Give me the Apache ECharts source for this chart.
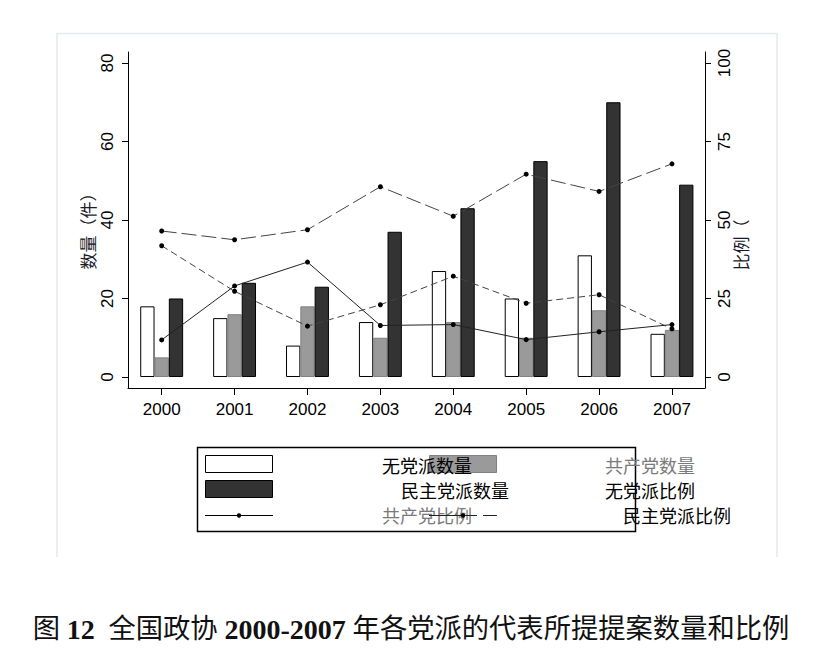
<!DOCTYPE html>
<html>
<head>
<meta charset="utf-8">
<script src="https://cdn.jsdelivr.net/npm/echarts@6/dist/echarts.min.js"></script>
<style>
html,body{margin:0;padding:0;background:#fff}
#c{width:822px;height:654px}
</style>
</head>
<body>
<div id="c"></div>
<script>
// ---- data ----
const years = ['2000','2001','2002','2003','2004','2005','2006','2007'];
const nonPartyCount   = [18, 15, 8, 14, 27, 20, 31, 11];   // 无党派数量
const cpcCount        = [5, 16, 18, 10, 14, 10, 17, 12];   // 共产党数量
const democraticCount = [20, 24, 23, 37, 43, 55, 70, 49];  // 民主党派数量
const nonPartyRatio   = [41.8, 27.3, 16.2, 23.0, 32.1, 23.5, 26.2, 15.3]; // 无党派比例
const cpcRatio        = [11.8, 29.0, 36.6, 16.4, 16.7, 11.9, 14.4, 16.7]; // 共产党比例
const democraticRatio = [46.5, 43.7, 46.9, 60.6, 51.2, 64.6, 59.1, 67.9]; // 民主党派比例
const countTicks = [0, 20, 40, 60, 80];
const ratioTicks = [0, 25, 50, 75, 100];
const yearIdx = years.map((y, i) => i);

const pairs = arr => arr.map((v, i) => [i, v]);

const chart = echarts.init(document.getElementById('c'), null, {renderer: 'svg'});
const axisFont = 'Liberation Sans, Arial, sans-serif';
const cjk = 'Noto Sans CJK SC, sans-serif';

const option = {
  backgroundColor: '#fff',
  animation: false,
  title: {
    left: 'center',
    top: 610,
    text: '{a|图 }{b|12}{a|  全国政协 }{b|2000-2007}{a| 年各党派的代表所提提案数量和比例}',
    textStyle: {
      rich: {
        a: {fontFamily: 'Liberation Serif, Noto Sans CJK SC, serif', fontSize: 27.3, color: '#111', fontWeight: 'normal'},
        b: {fontFamily: 'Liberation Serif, serif', fontSize: 28, color: '#111', fontWeight: 'bold'}
      }
    }
  },
  grid: {left: 128, right: 117, top: 52, bottom: 266, containLabel: false},
  xAxis: {
    type: 'value',
    min: -0.462, max: 7.453,
    splitLine: {show: false},
    axisLine: {show: true, onZero: false, lineStyle: {color: '#000', width: 1}},
    axisTick: {show: true, length: 7, lineStyle: {color: '#000'}, customValues: yearIdx},
    axisLabel: {customValues: yearIdx, formatter: v => years[Math.round(v)], margin: 13,
      fontFamily: axisFont, fontSize: 17, color: '#000'}
  },
  yAxis: [{
    type: 'value',
    min: -2.803, max: 82.803,
    splitLine: {show: false},
    axisLine: {show: true, onZero: false, lineStyle: {color: '#000', width: 1}},
    axisTick: {show: true, length: 6, lineStyle: {color: '#000'}, customValues: countTicks},
    axisLabel: {customValues: countTicks, rotate: 90, margin: 12, fontFamily: axisFont, fontSize: 17, color: '#000'}
  }, {
    type: 'value',
    min: -3.503, max: 103.503,
    splitLine: {show: false},
    axisLine: {show: true, onZero: false, lineStyle: {color: '#000', width: 1}},
    axisTick: {show: true, length: 6, lineStyle: {color: '#000'}, customValues: ratioTicks},
    axisLabel: {customValues: ratioTicks, rotate: 90, margin: 11, fontFamily: axisFont, fontSize: 17, color: '#000'}
  }],
  series: [
    {name: '无党派数量', type: 'bar', data: pairs(nonPartyCount), barWidth: 14.3, barGap: '0%',
      itemStyle: {color: '#fff', borderColor: '#000', borderWidth: 1}},
    {name: '共产党数量', type: 'bar', data: pairs(cpcCount), barWidth: 14.3, barGap: '0%',
      itemStyle: {color: '#9a9a9a', borderColor: '#808080', borderWidth: 1}},
    {name: '民主党派数量', type: 'bar', data: pairs(democraticCount), barWidth: 14.3, barGap: '0%',
      itemStyle: {color: '#333', borderColor: '#000', borderWidth: 1}},
    {name: '民主党派比例', type: 'line', yAxisIndex: 1, data: pairs(democraticRatio), z: 5,
      symbol: 'circle', symbolSize: 5, itemStyle: {color: '#000'},
      lineStyle: {color: '#444', width: 1, type: [15, 5]}},
    {name: '无党派比例', type: 'line', yAxisIndex: 1, data: pairs(nonPartyRatio), z: 5,
      symbol: 'circle', symbolSize: 5, itemStyle: {color: '#000'},
      lineStyle: {color: '#444', width: 1, type: [7, 4]}},
    {name: '共产党比例', type: 'line', yAxisIndex: 1, data: pairs(cpcRatio), z: 5,
      symbol: 'circle', symbolSize: 5, itemStyle: {color: '#000'},
      lineStyle: {color: '#222', width: 1, type: 'solid'}}
  ],
  graphic: [
    // faint plot-region frame
    {type: 'polyline', silent: true, shape: {points: [[57, 557], [57, 33.5], [777, 33.5], [777, 557]]},
      style: {stroke: '#e4eaee', lineWidth: 1.5, fill: null}},
    // axis names
    {type: 'text', x: 87, y: 227, rotation: Math.PI / 2,
      style: {text: '数量（件）', font: '17px ' + cjk, fill: '#1a1a2a', align: 'center', verticalAlign: 'middle'}},
    {type: 'text', x: 740, y: 245, rotation: Math.PI / 2,
      style: {text: '比例（', font: '17px ' + cjk, fill: '#1a1a2a', align: 'center', verticalAlign: 'middle'}},
    // legend box
    {type: 'rect', shape: {x: 197.5, y: 447.5, width: 438, height: 84}, style: {fill: '#fff', stroke: '#000', lineWidth: 1.5}, z: 10},
    {type: 'rect', shape: {x: 205.5, y: 455.5, width: 67, height: 17}, style: {fill: '#fff', stroke: '#000', lineWidth: 1}, z: 11},
    {type: 'rect', shape: {x: 429.5, y: 455.5, width: 67, height: 17}, style: {fill: '#9a9a9a', stroke: '#808080', lineWidth: 1}, z: 11},
    {type: 'rect', shape: {x: 205.5, y: 480.5, width: 67, height: 17}, style: {fill: '#333', stroke: '#000', lineWidth: 1}, z: 11},
    {type: 'line', shape: {x1: 205, y1: 515.5, x2: 273, y2: 515.5}, style: {stroke: '#000', lineWidth: 1}, z: 11},
    {type: 'circle', shape: {cx: 239, cy: 515.5, r: 2.2}, style: {fill: '#000'}, z: 12},
    {type: 'text', x: 382, y: 465, z: 12, style: {text: '无党派数量', font: '18px ' + cjk, fill: '#000', verticalAlign: 'middle'}},
    {type: 'text', x: 605, y: 465, z: 12, style: {text: '共产党数量', font: '18px ' + cjk, fill: '#7a7a7a', verticalAlign: 'middle'}},
    {type: 'text', x: 401, y: 490, z: 12, style: {text: '民主党派数量', font: '18px ' + cjk, fill: '#000', verticalAlign: 'middle'}},
    {type: 'text', x: 605, y: 490, z: 12, style: {text: '无党派比例', font: '18px ' + cjk, fill: '#000', verticalAlign: 'middle'}},
    {type: 'text', x: 382, y: 515, z: 12, style: {text: '共产党比例', font: '18px ' + cjk, fill: '#7a7a7a', verticalAlign: 'middle'}},
    {type: 'line', shape: {x1: 429, y1: 515.5, x2: 477, y2: 515.5}, style: {stroke: '#222', lineWidth: 1}, z: 13},
    {type: 'line', shape: {x1: 483, y1: 515.5, x2: 497, y2: 515.5}, style: {stroke: '#222', lineWidth: 1}, z: 13},
    {type: 'circle', shape: {cx: 463, cy: 515.5, r: 2.2}, style: {fill: '#000'}, z: 13},
    {type: 'text', x: 623, y: 515, z: 12, style: {text: '民主党派比例', font: '18px ' + cjk, fill: '#000', verticalAlign: 'middle'}}
  ]
};
chart.setOption(option);
</script>
</body>
</html>
